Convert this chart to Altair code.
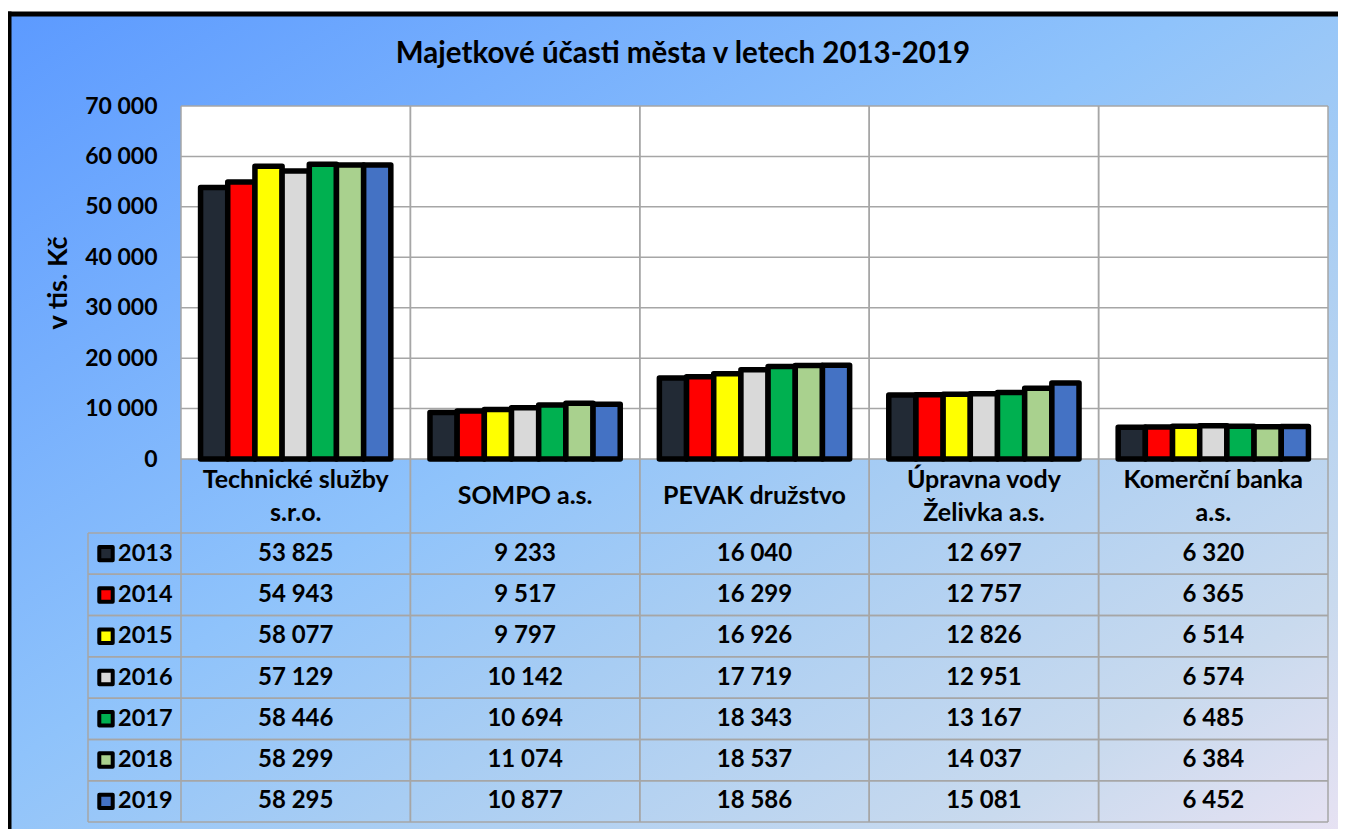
import altair as alt
import pandas as pd

# ---------------- data ----------------
categories = ["Technické služby s.r.o.", "SOMPO a.s.", "PEVAK družstvo",
              "Úpravna vody Želivka a.s.", "Komerční banka a.s."]
category_labels = ["Technické služby\ns.r.o.", "SOMPO a.s.", "PEVAK družstvo",
                   "Úpravna vody\nŽelivka a.s.", "Komerční banka\na.s."]
years = ["2013", "2014", "2015", "2016", "2017", "2018", "2019"]
v2013 = [53825, 9233, 16040, 12697, 6320]
v2014 = [54943, 9517, 16299, 12757, 6365]
v2015 = [58077, 9797, 16926, 12826, 6514]
v2016 = [57129, 10142, 17719, 12951, 6574]
v2017 = [58446, 10694, 18343, 13167, 6485]
v2018 = [58299, 11074, 18537, 14037, 6384]
v2019 = [58295, 10877, 18586, 15081, 6452]
year_colors = ["#222a35", "#ff0000", "#ffff00", "#d9d9d9", "#00b050", "#a9d18e", "#4472c4"]
y_ticks = [0, 10000, 20000, 30000, 40000, 50000, 60000, 70000]
title_text = "Majetkové účasti města v letech 2013-2019"
y_title = "v tis. Kč"

series = [v2013, v2014, v2015, v2016, v2017, v2018, v2019]
rows = []
for yr, vals in zip(years, series):
    for cat, v in zip(categories, vals):
        rows.append({"firma": cat, "rok": yr, "hodnota": v,
                     "txt": f"{v:,}".replace(",", " ")})
df = pd.DataFrame(rows)
df_cat = pd.DataFrame({"firma": categories, "lbl": category_labels})
df_year = pd.DataFrame({"rok": years})
df_ticks = pd.DataFrame({"v": y_ticks})

W, H = 1147, 353
FONT = "Lato"
GRID = "#a6a6a6"

xs = alt.Scale(domain=categories, paddingInner=0, paddingOuter=0)
ys = alt.Scale(domain=[0, 70000])
tab_y = alt.Scale(domain=years, range=[427, 716], paddingInner=0, paddingOuter=0)
col = alt.Scale(domain=years, range=year_colors)

one = df_ticks.head(1)

# background frame with gradient (frame continues past the right/bottom edges)
bg = alt.Chart(one).mark_rect(
    fill=alt.Gradient(gradient="linear", x1=0, y1=0, x2=1, y2=1,
                      stops=[alt.GradientStop(color="#5c9aff", offset=0),
                             alt.GradientStop(color="#8fc3fb", offset=0.42),
                             alt.GradientStop(color="#a8cdf3", offset=0.58),
                             alt.GradientStop(color="#c9daee", offset=0.8),
                             alt.GradientStop(color="#f6e6f5", offset=1)])
).encode(x=alt.value(-172), x2=alt.value(1230), y=alt.value(-92), y2=alt.value(800))

frame_left = alt.Chart(one).mark_rule(color="black", strokeWidth=5).encode(
    x=alt.value(-172), y=alt.value(-94.5), y2=alt.value(800))
frame_top = alt.Chart(one).mark_rule(color="black", strokeWidth=5).encode(
    y=alt.value(-92), x=alt.value(-174.5), x2=alt.value(1230))

plot_bg = alt.Chart(one).mark_rect(fill="white").encode(
    x=alt.value(0), x2=alt.value(W), y=alt.value(0), y2=alt.value(H))

title = alt.Chart(one).mark_text(
    text=title_text, font=FONT, fontSize=29.5, fontWeight="bold", color="black",
    align="center", baseline="middle"
).encode(x=alt.value(502), y=alt.value(-52))

hgrid = alt.Chart(df_ticks).mark_rule(color=GRID, strokeWidth=1.5).encode(
    y=alt.Y("v:Q", scale=ys), x=alt.value(0), x2=alt.value(W))

bars = alt.Chart(df).mark_bar(stroke="black", strokeWidth=5.5, strokeJoin="round").encode(
    x=alt.X("firma:N", scale=xs, axis=None),
    xOffset=alt.XOffset("rok:N", scale=alt.Scale(domain=years, paddingInner=0, paddingOuter=0.72)),
    y=alt.Y("hodnota:Q", scale=ys,
            axis=alt.Axis(values=y_ticks, title=y_title, grid=False, domain=False, ticks=False,
                          labelExpr="replace(format(datum.value, ','), ',', ' ')",
                          labelFont=FONT, labelFontSize=23, labelFontWeight="bold",
                          labelColor="black", labelPadding=24,
                          titleFont=FONT, titleFontSize=27, titleFontWeight="bold",
                          titleColor="black", titlePadding=12, zindex=1)),
    fill=alt.Fill("rok:N", scale=col, legend=None),
)

plot = alt.layer(hgrid, bars)

vlines0 = alt.Chart(df_cat).mark_rule(color=GRID, strokeWidth=1.5).encode(
    x=alt.X("firma:N", scale=xs, axis=None, bandPosition=0), y=alt.value(0), y2=alt.value(716))
vlines1 = alt.Chart(df_cat).mark_rule(color=GRID, strokeWidth=1.5).encode(
    x=alt.X("firma:N", scale=xs, axis=None, bandPosition=1), y=alt.value(0), y2=alt.value(716))
left_line = alt.Chart(one).mark_rule(color=GRID, strokeWidth=1.5).encode(
    x=alt.value(-93), y=alt.value(427), y2=alt.value(716))

hlines0 = alt.Chart(df_year).mark_rule(color=GRID, strokeWidth=1.5).encode(
    y=alt.Y("rok:N", scale=tab_y, axis=None, bandPosition=0), x=alt.value(-93), x2=alt.value(W))
hlines1 = alt.Chart(df_year).mark_rule(color=GRID, strokeWidth=1.5).encode(
    y=alt.Y("rok:N", scale=tab_y, axis=None, bandPosition=1), x=alt.value(-93), x2=alt.value(W))

cat_base = alt.Chart(df_cat).transform_calculate(
    two="indexof(datum.lbl, '\\n') >= 0")
cat_one = cat_base.transform_filter("!datum.two").mark_text(
    font=FONT, fontSize=25, fontWeight="bold", color="black",
    align="center", baseline="middle"
).encode(x=alt.X("firma:N", scale=xs, axis=None), y=alt.value(390), text="lbl:N")
cat_two = cat_base.transform_filter("datum.two").mark_text(
    font=FONT, fontSize=25, fontWeight="bold", color="black", lineBreak="\n",
    lineHeight=33, align="center", baseline="middle"
).encode(x=alt.X("firma:N", scale=xs, axis=None), y=alt.value(374), text="lbl:N")

cell_text = alt.Chart(df).mark_text(
    font=FONT, fontSize=24, fontWeight="bold", color="black", align="center", baseline="middle"
).encode(x=alt.X("firma:N", scale=xs, axis=None),
         y=alt.Y("rok:N", scale=tab_y, axis=None), text="txt:N")

year_text = alt.Chart(df_year).mark_text(
    font=FONT, fontSize=23.5, fontWeight="bold", color="black", align="left", baseline="middle"
).encode(x=alt.value(-63), y=alt.Y("rok:N", scale=tab_y, axis=None), text="rok:N")

year_sq = alt.Chart(df_year).mark_square(
    size=180, stroke="black", strokeWidth=4, opacity=1, strokeJoin="round"
).encode(x=alt.value(-75), y=alt.Y("rok:N", scale=tab_y, axis=None),
         fill=alt.Fill("rok:N", scale=col, legend=None))

chart = alt.layer(
    bg, frame_left, frame_top, plot_bg, title, plot, vlines0, vlines1, left_line,
    hlines0, hlines1, cat_one, cat_two, cell_text, year_text, year_sq
).resolve_scale(y="independent").properties(
    width=W, height=H,
    autosize=alt.AutoSizeParams(type="none"),
    padding={"left": 173, "top": 98, "right": 10, "bottom": 370},
).configure_view(stroke=None)

chart.save("out.html", embed_options={"renderer": "svg", "actions": False})
